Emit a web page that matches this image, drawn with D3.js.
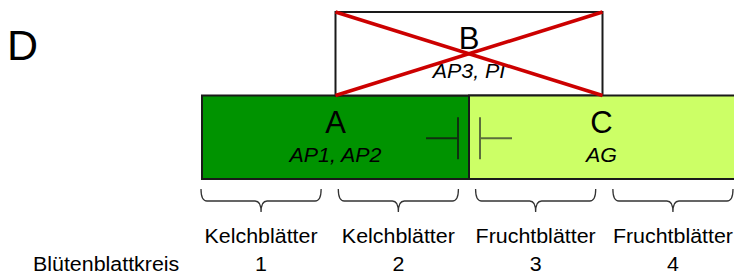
<!DOCTYPE html>
<html>
  <head>
    <meta charset="UTF-8">
    <script src="https://d3js.org/d3.v7.min.js"></script>
    <title>ABC Modell D</title>
    <style>
      body { margin: 0; background: #fff; }
      svg { display: block; font-family: "Liberation Sans", Arial, sans-serif; }
    </style>
  </head>
  <body>
    <svg id="f1" width="734" height="275"></svg>
    <script>
    // genes and where they act (in whorl units)
    var genes = ["A", "B", "C"];
    var geneNames = ["AP1, AP2", "AP3, PI", "AG"];
    var geneStart = [0, 1, 2];
    var geneEnd = [2, 3, 4];
    var geneRow = ["unten", "oben", "unten"];
    var knockedOut = ["B"];
    var inhibitions = [["A", "C"], ["C", "A"]];   // A hemmt C, C hemmt A

    var whorls = [1, 2, 3, 4];
    var organs = ["Kelchblätter", "Kelchblätter", "Fruchtblätter", "Fruchtblätter"];
    var rowTitle = "Blütenblattkreis";
    var panel = "D";

    var svg = d3.select("#f1");

    var x = d3.scaleLinear().domain([0, 4]).range([202, 736]);
    var y = d3.scaleBand().domain(["oben", "unten"]).range([12, 179]);
    var xb = d3.scaleBand().domain(whorls).range([201, 733]).paddingInner(0.125);
    var fill = d3.scaleOrdinal().domain(genes).range(["#009300", "#ffffff", "#ccff66"]);

    var geneData = genes.map(function(g, i) {
      return { gene: g, name: geneNames[i], x0: geneStart[i], x1: geneEnd[i], row: geneRow[i] };
    });

    // panel letter
    svg.append("text")
      .attr("x", 7).attr("y", 60)
      .style("font-size", "43px")
      .text(panel);

    // boxes
    var boxes = svg.append("g").selectAll("g")
      .data(geneData)
      .enter().append("g");

    boxes.append("rect")
      .attr("x", function(d) { return x(d.x0); })
      .attr("y", function(d) { return y(d.row); })
      .attr("width", function(d) { return x(d.x1) - x(d.x0); })
      .attr("height", y.bandwidth())
      .attr("fill", function(d) { return fill(d.gene); })
      .attr("stroke", "#1a1a1a")
      .attr("stroke-width", 2);

    // inhibition symbols between A and C
    var geneByName = {};
    geneData.forEach(function(d) { geneByName[d.gene] = d; });
    inhibitions.forEach(function(p) {
      var src = geneByName[p[0]], dst = geneByName[p[1]];
      var dir = dst.x0 > src.x0 ? 1 : -1;           // direction toward the target
      var edge = dir > 0 ? x(src.x1) : x(src.x0);    // boundary between the two
      var tip = edge - dir * 11;
      var tail = tip - dir * 32;
      var cy = y(src.row) + y.bandwidth() / 2 + 1;
      var col = src.gene == "A" ? "#103010" : "#5b6e3c";
      var g = svg.append("g").attr("stroke", col).attr("stroke-width", 2);
      g.append("line").attr("x1", tail).attr("x2", tip).attr("y1", cy).attr("y2", cy);
      g.append("line").attr("x1", tip).attr("x2", tip).attr("y1", cy - 21).attr("y2", cy + 21);
    });

    // gene letters and gene names
    boxes.append("text")
      .attr("text-anchor", "middle")
      .attr("x", function(d) { return (x(d.x0) + Math.min(x(d.x1), 734)) / 2; })
      .attr("y", function(d) { return y(d.row) + 37; })
      .style("font-size", "31px")
      .text(function(d) { return d.gene; });

    boxes.append("text")
      .attr("text-anchor", "middle")
      .attr("transform", function(d) {
        var cx = (x(d.x0) + Math.min(x(d.x1), 734)) / 2;
        return "translate(" + cx + "," + (y(d.row) + 66) + ") scale(1.07,1)";
      })
      .style("font-size", "20px")
      .style("font-style", "italic")
      .text(function(d) { return d.name; });

    // crossed out genes
    geneData.filter(function(d) { return knockedOut.indexOf(d.gene) >= 0; }).forEach(function(d) {
      var x0 = x(d.x0), x1 = x(d.x1), y0 = y(d.row), y1 = y(d.row) + y.bandwidth();
      svg.append("line").attr("x1", x0).attr("y1", y0).attr("x2", x1).attr("y2", y1)
        .attr("stroke", "#cc0000").attr("stroke-width", 3.5);
      svg.append("line").attr("x1", x0).attr("y1", y1).attr("x2", x1).attr("y2", y0)
        .attr("stroke", "#cc0000").attr("stroke-width", 3.5);
    });

    // braces under each whorl
    function brace(x0, x1) {
      var y0 = 189, y1 = 201, y2 = 212, r = 6, xm = (x0 + x1) / 2;
      return "M" + x0 + "," + y0 +
        " Q" + x0 + "," + y1 + " " + (x0 + r) + "," + y1 +
        " L" + (xm - r) + "," + y1 +
        " Q" + xm + "," + y1 + " " + xm + "," + y2 +
        " Q" + xm + "," + y1 + " " + (xm + r) + "," + y1 +
        " L" + (x1 - r) + "," + y1 +
        " Q" + x1 + "," + y1 + " " + x1 + "," + y0;
    }

    var cols = svg.append("g").selectAll("g")
      .data(whorls)
      .enter().append("g");

    cols.append("path")
      .attr("d", function(w) { return brace(xb(w), xb(w) + xb.bandwidth()); })
      .attr("fill", "none")
      .attr("stroke", "#333")
      .attr("stroke-width", 1.3);

    cols.append("text")
      .attr("text-anchor", "middle")
      .attr("transform", function(w) {
        return "translate(" + (xb(w) + xb.bandwidth() / 2) + ",243) scale(1.07,1)";
      })
      .style("font-size", "20px")
      .text(function(w, i) { return organs[i]; });

    cols.append("text")
      .attr("text-anchor", "middle")
      .attr("transform", function(w) {
        return "translate(" + (xb(w) + xb.bandwidth() / 2) + ",271) scale(1.07,1)";
      })
      .style("font-size", "20px")
      .text(function(w) { return w; });

    svg.append("text")
      .attr("transform", "translate(33,271) scale(1.07,1)")
      .style("font-size", "20px")
      .text(rowTitle);
    </script>
  </body>
</html>
